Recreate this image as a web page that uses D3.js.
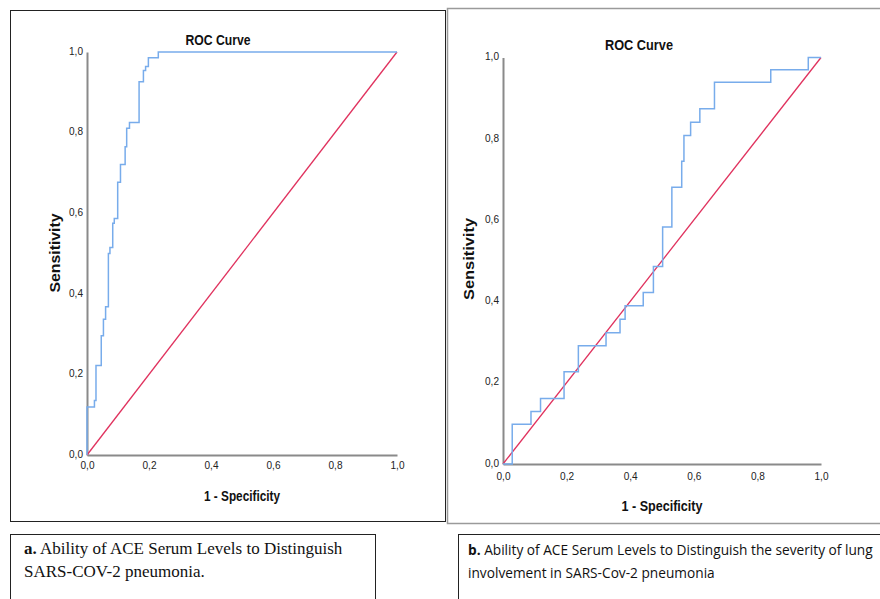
<!DOCTYPE html>
<html>
<head>
<meta charset="utf-8">
<script src="https://cdn.jsdelivr.net/npm/d3@7"></script>
<style>
  body { margin: 0; background: #fff; }
  svg { display: block; }
  .narrow { font-family: "Liberation Sans Narrow", "Arial Narrow", "Liberation Sans", Arial, sans-serif; }
</style>
</head>
<body>
<div id="chart"></div>
<script>
// axis ticks shared by both ROC plots
const tickValues = [0, 0.2, 0.4, 0.6, 0.8, 1.0]

// panel a: 1 - specificity where each horizontal step ends, and its sensitivity level
const fprA = [0, 0.024, 0.029, 0.046, 0.053, 0.060, 0.069, 0.074, 0.083, 0.088, 0.099,
  0.108, 0.123, 0.128, 0.137, 0.168, 0.182, 0.189, 0.198, 0.230, 1.0]
const sensA = [0, 0.119, 0.135, 0.222, 0.296, 0.337, 0.368, 0.500, 0.515, 0.575, 0.587,
  0.677, 0.721, 0.765, 0.811, 0.825, 0.926, 0.954, 0.964, 0.986, 1.0]

// panel b
const fprB = [0, 0.029, 0.088, 0.118, 0.192, 0.237, 0.324, 0.368, 0.384, 0.441, 0.473,
  0.502, 0.531, 0.562, 0.569, 0.590, 0.619, 0.665, 0.842, 0.960, 1.0]
const sensB = [0, 0, 0.098, 0.129, 0.161, 0.227, 0.291, 0.323, 0.356, 0.389, 0.422,
  0.486, 0.583, 0.681, 0.745, 0.808, 0.841, 0.874, 0.939, 0.970, 1.0]

const captionA = ["Ability of ACE Serum Levels to Distinguish", "SARS-COV-2 pneumonia."]
const captionB = ["Ability of ACE Serum Levels to Distinguish the severity of lung", "involvement in SARS-Cov-2 pneumonia"]

const width = 880
const height = 599

const svg = d3.select("#chart")
  .append("svg")
  .attr("width", width)
  .attr("height", height)

const comma = d3.formatLocale({ decimal: ",", thousands: ".", grouping: [3], currency: ["", ""] })
const fmt = comma.format(".1f")

// panel frames
svg.append("rect")
  .attr("x", 10.5).attr("y", 10.5).attr("width", 435).attr("height", 511)
  .attr("fill", "none").attr("stroke", "#222")
svg.append("rect")
  .attr("x", 447.5).attr("y", 8.5).attr("width", 450).attr("height", 515)
  .attr("fill", "none").attr("stroke", "#9a9a9a").attr("stroke-width", 1.5)

// squeeze a label to a given width, to stand in for the narrow font
function squeeze(sel, len) {
  sel.attr("textLength", len).attr("lengthAdjust", "spacingAndGlyphs")
}

function drawRoc(fpr, sens, opt) {
  const g = svg.append("g")

  const x = d3.scaleLinear().domain([0, 1]).range(opt.xRange)
  const y = d3.scaleLinear().domain([0, 1]).range(opt.yRange)

  const xAxis = d3.axisBottom(x).tickValues(tickValues).tickFormat(fmt).tickSize(0).tickPadding(opt.xPad)
  const yAxis = d3.axisLeft(y).tickValues(tickValues).tickFormat(fmt).tickSize(0).tickPadding(4)

  const gx = g.append("g")
    .attr("transform", `translate(0,${opt.yRange[0]})`)
    .call(xAxis)
  const gy = g.append("g")
    .attr("transform", `translate(${opt.xRange[0]},0)`)
    .call(yAxis)

  ;[gx, gy].forEach(a => {
    a.select(".domain").attr("stroke", "#8a8a8a").attr("stroke-width", 2)
    a.selectAll("text")
      .attr("font-family", "'Liberation Sans', Arial, sans-serif")
      .attr("font-size", "11px")
      .attr("fill", "#222")
      .call(squeeze, 14)
  })
  gy.selectAll("text").attr("dy", "0.2em")

  // reference diagonal
  g.append("line")
    .attr("x1", x(0)).attr("y1", y(0))
    .attr("x2", x(1)).attr("y2", y(1))
    .attr("stroke", "#e0325e")
    .attr("stroke-width", 1.3)

  // step curve
  const pts = fpr.map((f, i) => [f, sens[i]])
  const line = d3.line()
    .x(d => x(d[0]))
    .y(d => y(d[1]))
    .curve(d3.curveStepBefore)
  g.append("path")
    .datum(pts)
    .attr("d", line)
    .attr("fill", "none")
    .attr("stroke", "#78aceb")
    .attr("stroke-width", 1.5)

  g.append("text")
    .attr("class", "narrow")
    .attr("x", opt.title[0]).attr("y", opt.title[1])
    .attr("text-anchor", "middle")
    .attr("font-size", "15px")
    .attr("font-weight", "bold")
    .attr("fill", "#111")
    .text("ROC Curve")
    .call(squeeze, opt.title[2])

  g.append("text")
    .attr("class", "narrow")
    .attr("transform", `translate(${opt.yLab[0]},${opt.yLab[1]}) rotate(-90)`)
    .attr("text-anchor", "middle")
    .attr("font-size", "15px")
    .attr("font-weight", "bold")
    .attr("fill", "#111")
    .text("Sensitivity")
    .call(squeeze, opt.yLab[2])

  g.append("text")
    .attr("class", "narrow")
    .attr("x", opt.xLab[0]).attr("y", opt.xLab[1])
    .attr("text-anchor", "middle")
    .attr("font-size", "15px")
    .attr("font-weight", "bold")
    .attr("fill", "#111")
    .text("1 - Specificity")
    .call(squeeze, opt.xLab[2])
}

drawRoc(fprA, sensA, {
  xRange: [87, 397], yRange: [455, 52], xPad: 6,
  title: [218, 45, 65], yLab: [60, 253, 79], xLab: [242, 501, 76]
})
drawRoc(fprB, sensB, {
  xRange: [503, 821], yRange: [464, 57.5], xPad: 8,
  title: [639, 50, 68], yLab: [474, 259, 82], xLab: [662, 511, 81]
})

// caption boxes
svg.append("rect")
  .attr("x", 10.5).attr("y", 534.5).attr("width", 365).attr("height", 80)
  .attr("fill", "none").attr("stroke", "#222")
svg.append("rect")
  .attr("x", 458.5).attr("y", 534.5).attr("width", 440).attr("height", 80)
  .attr("fill", "none").attr("stroke", "#222")

const ca = svg.append("text")
  .attr("font-family", "'Liberation Serif', 'Times New Roman', serif")
  .attr("font-size", "17px")
  .attr("fill", "#111")
ca.append("tspan").attr("x", 24).attr("y", 554).attr("font-weight", "bold").text("a.")
ca.append("tspan").text(" " + captionA[0])
ca.append("tspan").attr("x", 24).attr("y", 577).text(captionA[1])

const cb = svg.append("text")
  .attr("font-family", "'Open Sans', 'Noto Sans', sans-serif")
  .attr("font-size", "13.7px")
  .attr("fill", "#111")
cb.append("tspan").attr("x", 468).attr("y", 555).attr("font-weight", "bold").text("b.")
cb.append("tspan").text(" " + captionB[0])
cb.append("tspan").attr("x", 468).attr("y", 578).text(captionB[1])
</script>
</body>
</html>
